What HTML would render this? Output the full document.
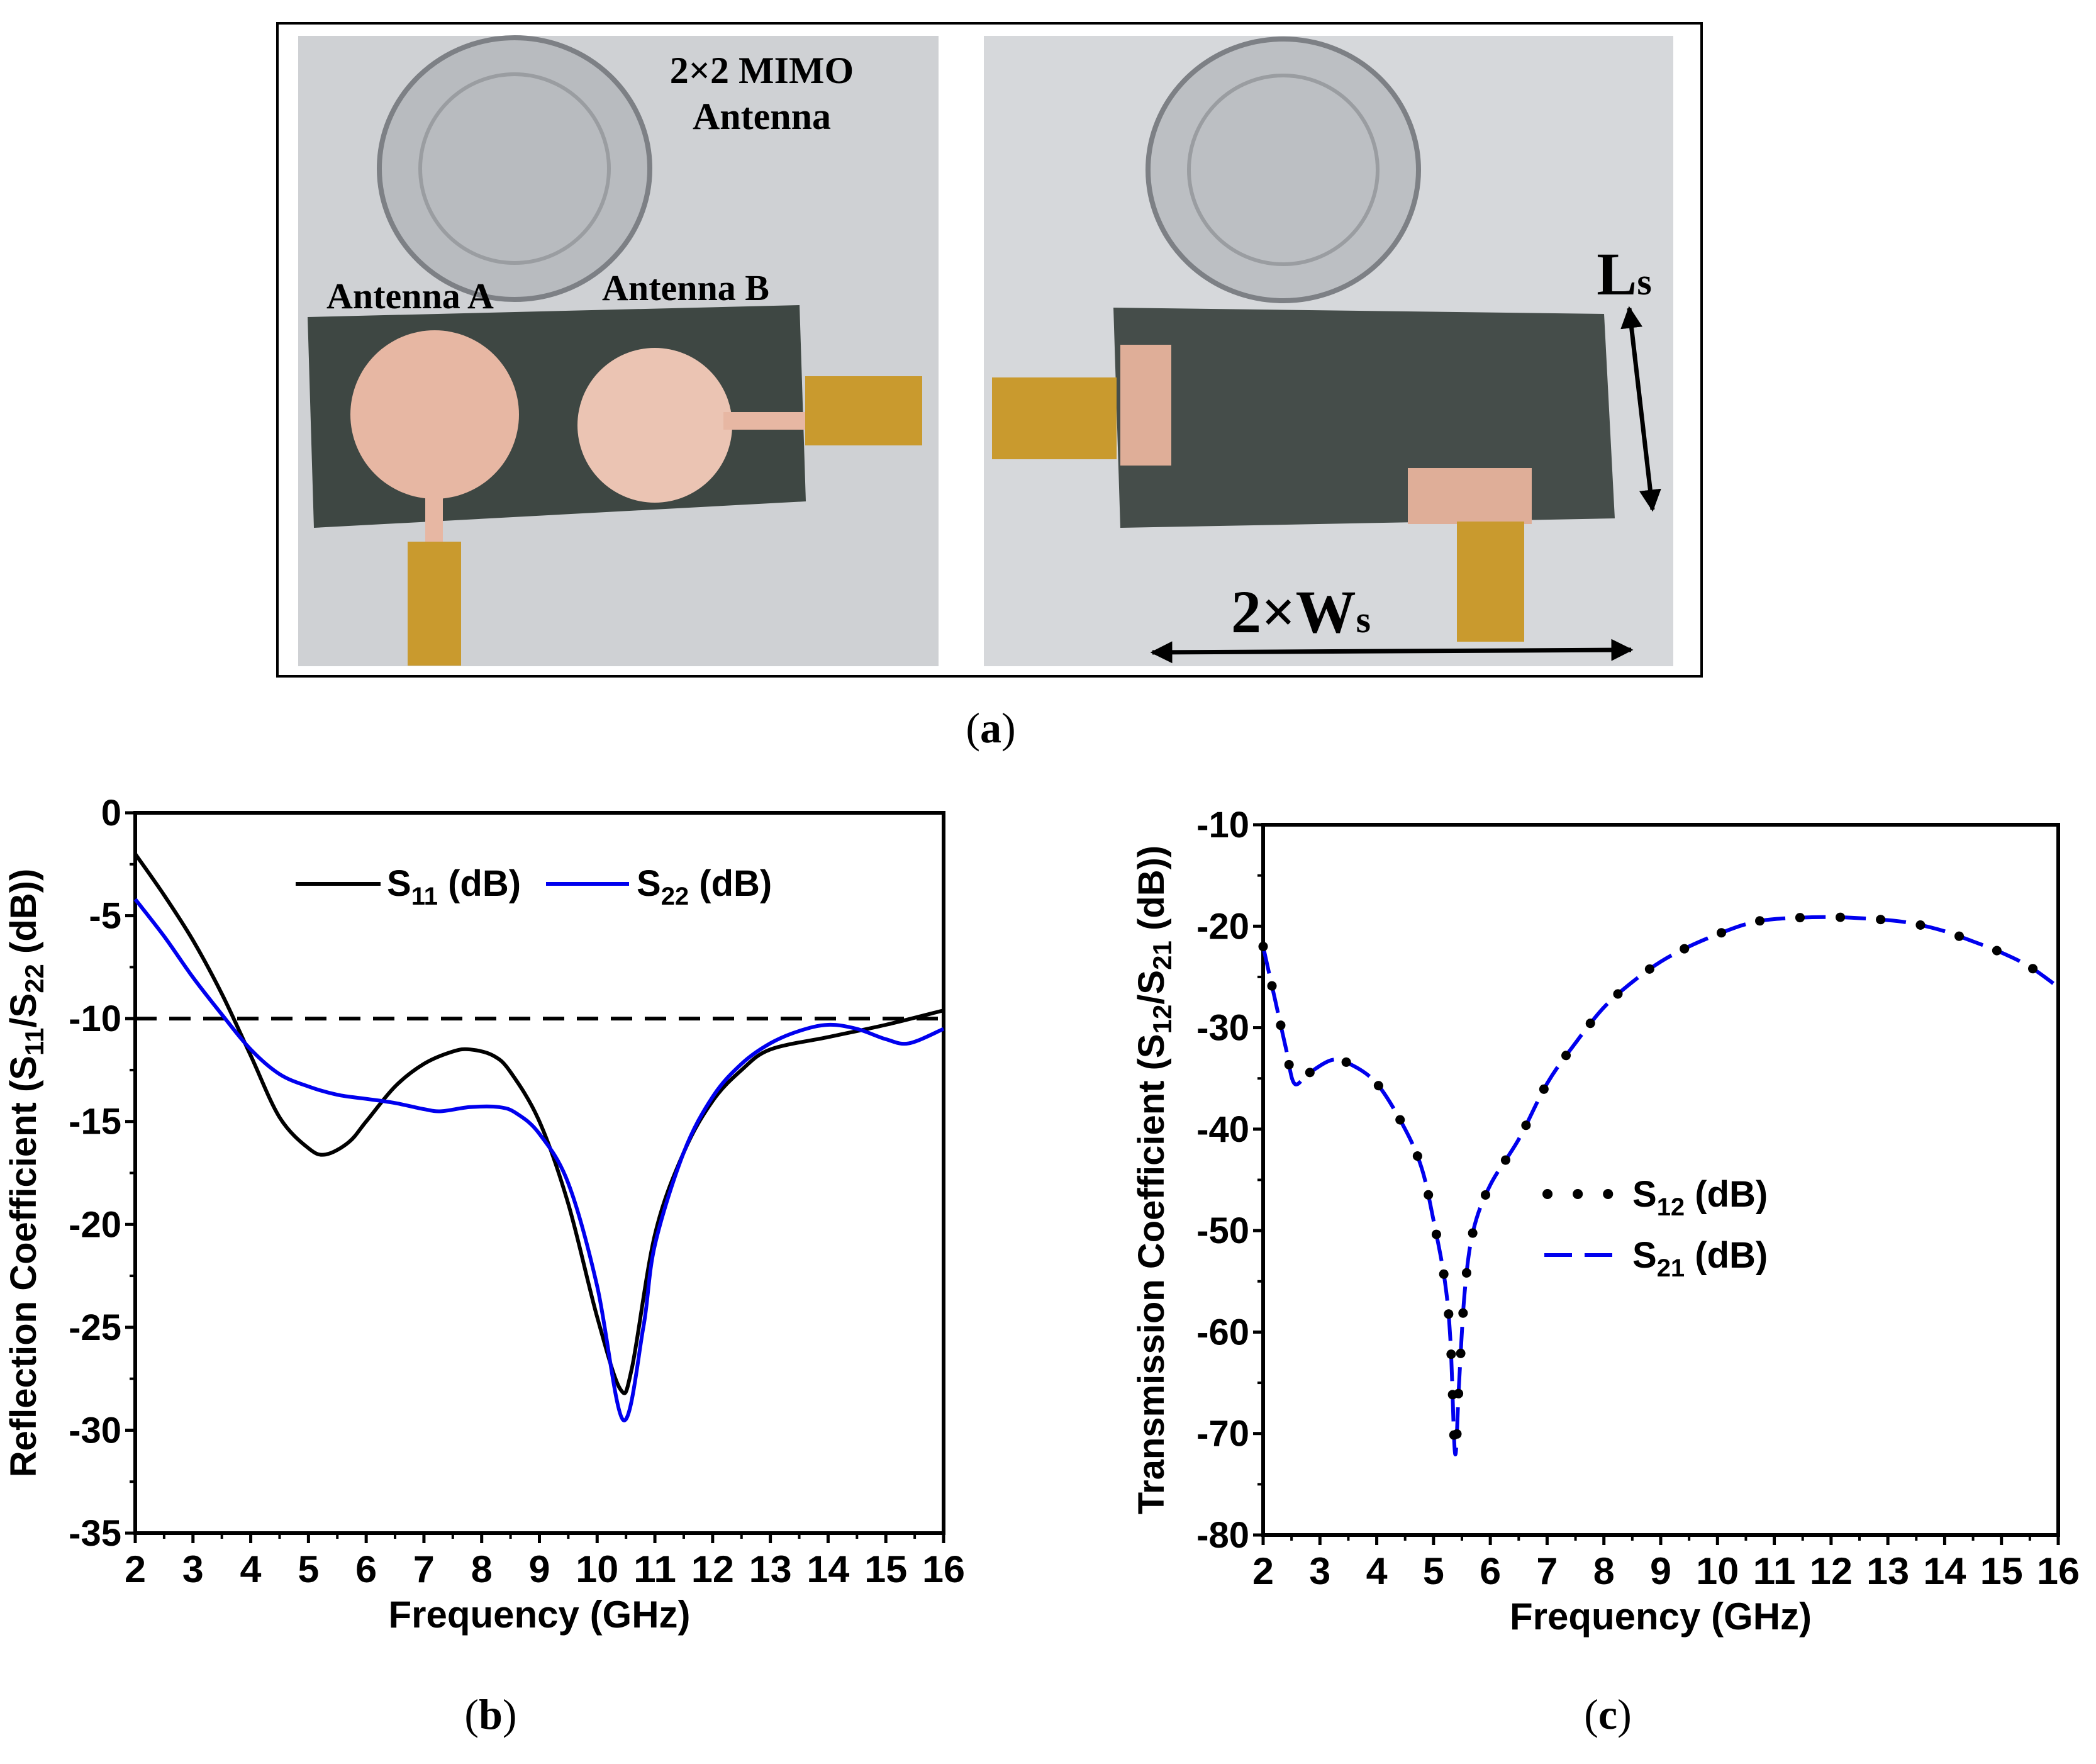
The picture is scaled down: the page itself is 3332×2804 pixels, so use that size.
<!DOCTYPE html>
<html><head><meta charset="utf-8"><style>
html,body{margin:0;padding:0;background:#fff;}
svg{display:block;}
</style></head><body>
<svg width="3332" height="2804" viewBox="0 0 3332 2804" xmlns="http://www.w3.org/2000/svg">
<defs>
<marker id="ah" viewBox="0 0 10 10" refX="9" refY="5" markerWidth="5" markerHeight="5" orient="auto-start-reverse"><path d="M0,0 L10,5 L0,10 z" fill="#000"/></marker>
</defs>
<g>
<rect x="441" y="37" width="2264" height="1038" fill="#fff" stroke="#000" stroke-width="4"/>
<g>
<rect x="474" y="57" width="1018" height="1002" fill="#cfd1d4"/>
<ellipse cx="818" cy="268" rx="215" ry="208" fill="#b8bbbf" stroke="#7d8085" stroke-width="8"/>
<ellipse cx="818" cy="268" rx="150" ry="150" fill="none" stroke="#9a9da1" stroke-width="6"/>
<polygon points="489,504 1271,485 1281,797 499,839" fill="#3e4743"/>
<circle cx="691" cy="659" r="134" fill="#e7b7a3"/>
<rect x="676" y="780" width="28" height="90" fill="#e7b7a3"/>
<circle cx="1041" cy="676" r="123" fill="#ebc4b3"/>
<rect x="1150" y="655" width="130" height="28" fill="#e7b7a3"/>
<rect x="648" y="861" width="85" height="197" fill="#c99a2e"/>
<rect x="1280" y="598" width="186" height="110" fill="#c99a2e"/>
<text x="1211" y="132" font-family="Liberation Serif, serif" font-weight="bold" font-size="60" text-anchor="middle">2×2 MIMO</text>
<text x="1211" y="205" font-family="Liberation Serif, serif" font-weight="bold" font-size="60" text-anchor="middle">Antenna</text>
<text x="652" y="490" font-family="Liberation Serif, serif" font-weight="bold" font-size="58" text-anchor="middle">Antenna A</text>
<text x="1090" y="477" font-family="Liberation Serif, serif" font-weight="bold" font-size="58" text-anchor="middle">Antenna B</text>
</g>
<g>
<rect x="1564" y="57" width="1096" height="1002" fill="#d6d8db"/>
<ellipse cx="2040" cy="270" rx="215" ry="208" fill="#bcbfc3" stroke="#7d8085" stroke-width="8"/>
<ellipse cx="2040" cy="270" rx="150" ry="150" fill="none" stroke="#9a9da1" stroke-width="6"/>
<polygon points="1770,489 2550,499 2567,824 1781,839" fill="#454d4a"/>
<rect x="1781" y="548" width="81" height="192" fill="#dfae98"/>
<rect x="2238" y="744" width="197" height="89" fill="#dfae98"/>
<rect x="1577" y="600" width="198" height="130" fill="#c99a2e"/>
<rect x="2316" y="829" width="107" height="191" fill="#c99a2e"/>
<text x="2582" y="468" font-family="Liberation Serif, serif" font-weight="bold" font-size="96" text-anchor="middle">L<tspan font-size="60">s</tspan></text>
<text x="2068" y="1005" font-family="Liberation Serif, serif" font-weight="bold" font-size="96" text-anchor="middle">2×W<tspan font-size="60">s</tspan></text>
<line x1="2590" y1="490" x2="2627" y2="810" stroke="#000" stroke-width="7" marker-start="url(#ah)" marker-end="url(#ah)"/>
<line x1="1832" y1="1037" x2="2593" y2="1033" stroke="#000" stroke-width="7" marker-start="url(#ah)" marker-end="url(#ah)"/>
</g>
</g>
<text x="1575" y="1180" font-family="Liberation Serif, serif" font-size="68" text-anchor="middle">(<tspan font-weight="bold">a</tspan>)</text>
<text x="780" y="2748" font-family="Liberation Serif, serif" font-size="68" text-anchor="middle">(<tspan font-weight="bold">b</tspan>)</text>
<text x="2556" y="2748" font-family="Liberation Serif, serif" font-size="68" text-anchor="middle">(<tspan font-weight="bold">c</tspan>)</text>
<g id="chartB"></g>
<g id="chartC"></g>
</svg>
<script>
const freqTicks = [2,3,4,5,6,7,8,9,10,11,12,13,14,15,16];
const reflTicks = [0,-5,-10,-15,-20,-25,-30,-35];
const transTicks = [-10,-20,-30,-40,-50,-60,-70,-80];
const s11X = [2,2.5,3,3.5,4,4.5,5,5.3,5.7,6,6.5,7,7.5,7.8,8.2,8.5,9,9.5,10,10.4,10.6,11,11.5,12,12.5,13,14,15,16];
const s11Y = [-2,-4,-6.2,-8.8,-11.8,-14.8,-16.3,-16.6,-16,-15,-13.3,-12.2,-11.6,-11.5,-11.8,-12.6,-15,-19,-24.5,-28,-27,-20.5,-16.5,-14,-12.5,-11.5,-10.9,-10.3,-9.6];
const s22X = [2,2.5,3,3.5,4,4.5,5,5.5,6,6.5,7,7.3,7.8,8.3,8.6,9,9.5,10,10.45,10.8,11,11.5,12,12.5,13,13.5,14,14.5,15,15.4,16];
const s22Y = [-4.2,-6,-8,-9.8,-11.5,-12.7,-13.3,-13.7,-13.9,-14.1,-14.4,-14.5,-14.3,-14.3,-14.6,-15.6,-18,-23,-29.5,-25,-21,-16.5,-13.8,-12.2,-11.2,-10.6,-10.3,-10.5,-11,-11.2,-10.5];
const s12X = [2,2.2,2.4,2.55,2.8,3.2,3.5,4,4.5,4.8,5,5.2,5.3,5.38,5.45,5.55,5.7,6,6.5,7,7.5,8,8.5,9,9.5,10,10.5,11,12,13,13.5,14,14.5,15,15.5,16];
const s12Y = [-22,-27,-32,-35.5,-34.5,-33.2,-33.5,-35.5,-40,-44,-49,-55,-61,-72,-65,-56,-50,-45.5,-41,-35.5,-31.5,-28,-25.5,-23.5,-22,-20.8,-19.8,-19.3,-19.1,-19.4,-19.8,-20.5,-21.5,-22.6,-24,-26];
const s21Y = s12Y.slice();
const threshold = -10;

const NS='http://www.w3.org/2000/svg';
function mk(parent, tag, attrs, text){
  const e=document.createElementNS(NS,tag);
  for(const k in attrs) e.setAttribute(k,attrs[k]);
  if(text!==undefined) e.textContent=text;
  parent.appendChild(e); return e;
}
function smoothPath(pts){
  let d='M'+pts[0][0].toFixed(1)+','+pts[0][1].toFixed(1);
  for(let i=0;i<pts.length-1;i++){
    const p0=pts[i-1]||pts[i],p1=pts[i],p2=pts[i+1],p3=pts[i+2]||p2;
    const c1=[p1[0]+(p2[0]-p0[0])/6,p1[1]+(p2[1]-p0[1])/6];
    const c2=[p2[0]-(p3[0]-p1[0])/6,p2[1]-(p3[1]-p1[1])/6];
    d+=' C'+c1[0].toFixed(1)+','+c1[1].toFixed(1)+' '+c2[0].toFixed(1)+','+c2[1].toFixed(1)+' '+p2[0].toFixed(1)+','+p2[1].toFixed(1);
  }
  return d;
}
function axes(g, L,R,T,B, ymax,ymin, yTicks, minorStep, yTitle){
  const sx=v=>L+(v-2)/14*(R-L);
  const sy=v=>T+(ymax-v)/(ymax-ymin)*(B-T);
  const F='Liberation Sans, sans-serif';
  freqTicks.forEach(t=>{
    const x=sx(t);
    const tk=mk(g,'line',{x1:x,y1:B,x2:x,y2:B+16,stroke:'#000','stroke-width':5});
    
    
    if(t<16){mk(g,'line',{x1:sx(t+0.5),y1:B,x2:sx(t+0.5),y2:B+9,stroke:'#000','stroke-width':4});}
    const lb=mk(g,'text',{x:x,y:B+78,'font-family':F,'font-weight':'bold','font-size':60,'text-anchor':'middle','textLength':t>=10?68:34,'lengthAdjust':'spacingAndGlyphs'},String(t));
    
    
  });
  yTicks.forEach(t=>{
    const y=sy(t);
    const tk=mk(g,'line',{x1:L-16,y1:y,x2:L,y2:y,stroke:'#000','stroke-width':5});
    
    
    if(t-minorStep>=ymin-0.01) mk(g,'line',{x1:L-9,y1:sy(t-minorStep),x2:L,y2:sy(t-minorStep),stroke:'#000','stroke-width':4});
    const lb=mk(g,'text',{x:L-22,y:y+20,'font-family':F,'font-weight':'bold','font-size':58,'text-anchor':'end'},String(t));
    
    
  });
  const fr=mk(g,'rect',{x:L,y:T,width:R-L,height:B-T,fill:'none',stroke:'#000','stroke-width':6});
  
  
  const xt=mk(g,'text',{x:(L+R)/2,y:B+150,'font-family':F,'font-weight':'bold','font-size':60,'text-anchor':'middle'},'Frequency (GHz)');
  
  
  const yt=mk(g,'text',{x:0,y:0,'font-family':F,'font-weight':'bold','font-size':58,'text-anchor':'middle',transform:`translate(${L-158},${(T+B)/2}) rotate(-90)`});
  yt.innerHTML=yTitle;
  
  
  return [sx,sy];
}
(function(){
  const g=document.getElementById('chartB');
  const [sx,sy]=axes(g,215,1500,1292,2437,0,-35,reflTicks,2.5,'Reflection Coefficient (S<tspan dy="12" font-size="42">11</tspan><tspan dy="-12">/S</tspan><tspan dy="12" font-size="42">22</tspan><tspan dy="-12"> (dB))</tspan>');
  const th=mk(g,'line',{x1:sx(2),y1:sy(threshold),x2:sx(16),y2:sy(threshold),stroke:'#000','stroke-width':6,'stroke-dasharray':'34,20'});
  
  
  const p11=mk(g,'path',{d:smoothPath(s11X.map((x,i)=>[sx(x),sy(s11Y[i])])),fill:'none',stroke:'#000','stroke-width':6});
  
  
  const p22=mk(g,'path',{d:smoothPath(s22X.map((x,i)=>[sx(x),sy(s22Y[i])])),fill:'none',stroke:'#0000ee','stroke-width':6});
  
  
  const F='Liberation Sans, sans-serif';
  const lg=mk(g,'g',{});
  
  
  mk(lg,'line',{x1:470,y1:1405,x2:605,y2:1405,stroke:'#000','stroke-width':6});
  const t1=mk(lg,'text',{x:615,y:1424,'font-family':F,'font-weight':'bold','font-size':58});
  t1.innerHTML='S<tspan dy="14" font-size="40">11</tspan><tspan dy="-14"> (dB)</tspan>';
  
  
  mk(lg,'line',{x1:868,y1:1405,x2:1000,y2:1405,stroke:'#0000ee','stroke-width':6});
  const t2=mk(lg,'text',{x:1012,y:1424,'font-family':F,'font-weight':'bold','font-size':58});
  t2.innerHTML='S<tspan dy="14" font-size="40">22</tspan><tspan dy="-14"> (dB)</tspan>';
  
  
})();
(function(){
  const g=document.getElementById('chartC');
  const [sx,sy]=axes(g,2008,3272,1311,2440,-10,-80,transTicks,5,'Transmission Coefficient (S<tspan dy="12" font-size="42">12</tspan><tspan dy="-12">/S</tspan><tspan dy="12" font-size="42">21</tspan><tspan dy="-12"> (dB))</tspan>');
  const p21=mk(g,'path',{d:smoothPath(s12X.map((x,i)=>[sx(x),sy(s21Y[i])])),fill:'none',stroke:'#0000ee','stroke-width':6,'stroke-dasharray':'44,20'});
  
  
  const p12=mk(g,'path',{d:smoothPath(s12X.map((x,i)=>[sx(x),sy(s12Y[i])])),fill:'none',stroke:'#000','stroke-width':15,'stroke-dasharray':'0.1,64','stroke-linecap':'round'});
  
  
  const F='Liberation Sans, sans-serif';
  const lg=mk(g,'g',{});
  
  
  mk(lg,'line',{x1:2460,y1:1898,x2:2560,y2:1898,stroke:'#000','stroke-width':16,'stroke-dasharray':'0.1,48','stroke-linecap':'round'});
  const t1=mk(lg,'text',{x:2595,y:1918,'font-family':F,'font-weight':'bold','font-size':58});
  t1.innerHTML='S<tspan dy="14" font-size="40">12</tspan><tspan dy="-14"> (dB)</tspan>';
  
  
  mk(lg,'line',{x1:2455,y1:1995,x2:2565,y2:1995,stroke:'#0000ee','stroke-width':6,'stroke-dasharray':'44,20'});
  const t2=mk(lg,'text',{x:2595,y:2015,'font-family':F,'font-weight':'bold','font-size':58});
  t2.innerHTML='S<tspan dy="14" font-size="40">21</tspan><tspan dy="-14"> (dB)</tspan>';
  
  
})();
</script>
</body></html>
